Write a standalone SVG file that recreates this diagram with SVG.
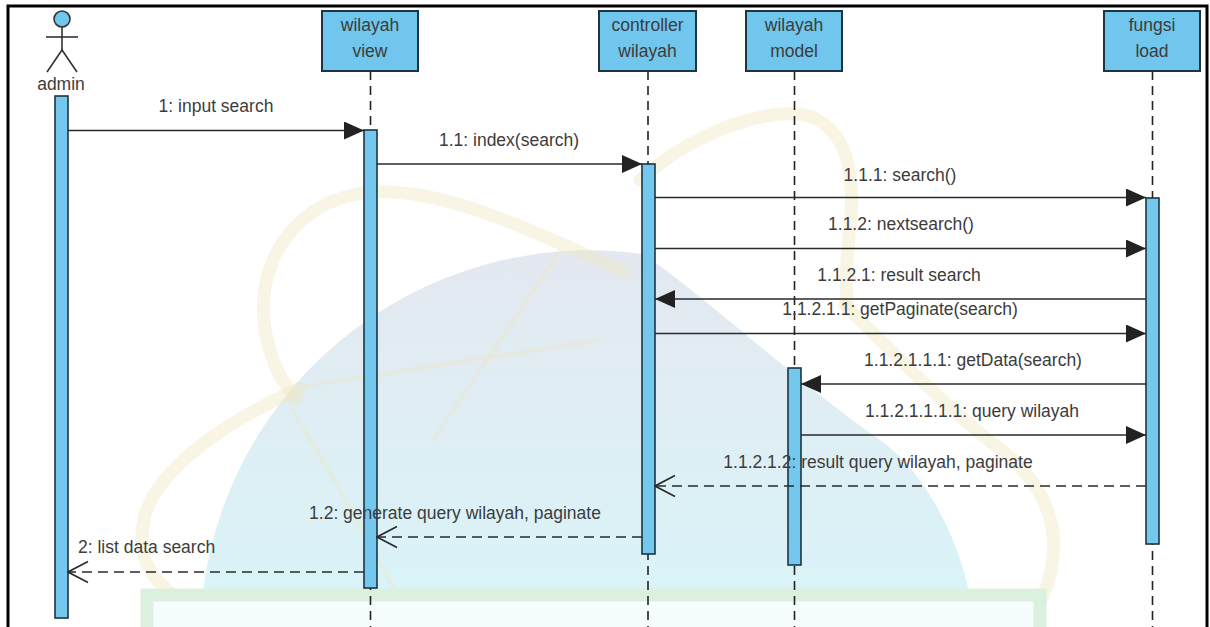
<svg xmlns="http://www.w3.org/2000/svg" width="1210" height="627" viewBox="0 0 1210 627">
  <style>
    .lbl { font-family: "Liberation Sans", Arial, sans-serif; font-size: 17.5px; fill: #3c3c3c; }
    .box { fill: #70c6ec; stroke: #1e3442; stroke-width: 2; }
    .bar { fill: #74c8ee; stroke: #1e3442; stroke-width: 1.6; }
    .life { stroke: #222; stroke-width: 1.6; stroke-dasharray: 9 6; fill: none; }
    .msg { stroke: #2a2a2a; stroke-width: 1.6; fill: none; }
    .ret { stroke: #2a2a2a; stroke-width: 1.6; fill: none; stroke-dasharray: 10 6; }
    .orbit { fill: none; stroke: #f1e6bd; stroke-width: 13; stroke-linecap: round; opacity: 0.4; }
    .orbit-thin { fill: none; stroke: #f1e6bd; stroke-width: 4; opacity: 0.35; }
  </style>
  <defs>
    <linearGradient id="globe" x1="0" y1="250" x2="0" y2="627" gradientUnits="userSpaceOnUse">
      <stop offset="0" stop-color="#e4e8f0"/>
      <stop offset="1" stop-color="#d8f5f9"/>
    </linearGradient>
    <marker id="head-fill" markerWidth="20" markerHeight="18" refX="20" refY="9" orient="auto" markerUnits="userSpaceOnUse">
      <path d="M0,0 L20,9 L0,18 Z" fill="#222"/>
    </marker>
    <marker id="head-open" markerWidth="22" markerHeight="24" refX="21" refY="12" orient="auto" markerUnits="userSpaceOnUse">
      <path d="M1,1.5 L21,12 L1,22.5" fill="none" stroke="#2a2a2a" stroke-width="1.6"/>
    </marker>
  </defs>

  <rect x="0" y="0" width="1210" height="627" fill="#ffffff"/>

  <!-- faint background emblem -->
  <g id="emblem">
    <path d="M643,254 A390,390 0 0 0 200,627 L975,627 C968,560 935,480 880,440 C800,385 710,300 643,254 Z" fill="url(#globe)"/>
    <path class="orbit" d="M625,272 C540,235 450,188 372,192 C298,198 258,258 264,320 C267,352 278,378 296,398"/>
    <path class="orbit" d="M300,388 C230,420 160,465 145,515 C135,555 150,580 178,598"/>
    <path class="orbit" d="M640,180 C690,135 760,108 805,115 C845,125 856,170 850,225 C846,265 845,290 848,305"/>
    <path class="orbit" d="M845,305 C900,360 955,415 995,445 C1050,485 1068,540 1042,598"/>
    <path class="orbit-thin" d="M560,250 L433,440"/>
    <path class="orbit-thin" d="M300,387 L600,340"/>
    <path class="orbit-thin" d="M287,400 L340,490 L400,600"/>
    <rect x="147" y="595" width="893" height="60" fill="#f6fdfd" stroke="#dcf0e0" stroke-width="13"/>
  </g>

  <!-- outer frame -->
  <rect x="8" y="6" width="1199" height="640" fill="none" stroke="#000" stroke-width="3"/>

  <!-- lifelines -->
  <g id="lifelines">
    <line class="life" x1="370.5" y1="71" x2="370.5" y2="627"/>
    <line class="life" x1="648" y1="71" x2="648" y2="627"/>
    <line class="life" x1="794.5" y1="71" x2="794.5" y2="627"/>
    <line class="life" x1="1152.5" y1="71" x2="1152.5" y2="627"/>
  </g>

  <!-- actor -->
  <g id="admin">
    <circle cx="62" cy="19" r="8" fill="#70c6ec" stroke="#333" stroke-width="1.6"/>
    <line x1="62" y1="27" x2="62" y2="50" stroke="#333" stroke-width="1.6"/>
    <line x1="46" y1="37" x2="78" y2="37" stroke="#333" stroke-width="1.6"/>
    <path d="M47,72 L62,50 L77,72" fill="none" stroke="#333" stroke-width="1.6"/>
    <text class="lbl" x="61" y="90" text-anchor="middle">admin</text>
    <rect class="bar" x="55" y="96" width="13" height="522"/>
  </g>

  <g id="wilayah-view">
    <rect class="box" x="322" y="11" width="96" height="60"/>
    <text class="lbl" x="370" y="31" text-anchor="middle">wilayah</text>
    <text class="lbl" x="370" y="57" text-anchor="middle">view</text>
    <rect class="bar" x="364" y="130" width="13" height="458"/>
  </g>

  <g id="controller-wilayah">
    <rect class="box" x="599" y="11" width="97" height="60"/>
    <text class="lbl" x="647.5" y="31" text-anchor="middle">controller</text>
    <text class="lbl" x="647.5" y="57" text-anchor="middle">wilayah</text>
    <rect class="bar" x="642" y="164" width="13" height="390"/>
  </g>

  <g id="wilayah-model">
    <rect class="box" x="746" y="11" width="96" height="60"/>
    <text class="lbl" x="794" y="31" text-anchor="middle">wilayah</text>
    <text class="lbl" x="794" y="57" text-anchor="middle">model</text>
    <rect class="bar" x="788" y="368" width="13" height="197"/>
  </g>

  <g id="fungsi-load">
    <rect class="box" x="1104" y="11" width="96" height="60"/>
    <text class="lbl" x="1152" y="31" text-anchor="middle">fungsi</text>
    <text class="lbl" x="1152" y="57" text-anchor="middle">load</text>
    <rect class="bar" x="1146" y="198" width="13" height="346"/>
  </g>

  <!-- messages -->
  <g id="messages">
    <line class="msg" x1="68" y1="130.5" x2="364" y2="130.5" marker-end="url(#head-fill)"/>
    <text class="lbl" x="216" y="112" text-anchor="middle">1: input search</text>

    <line class="msg" x1="377" y1="164" x2="642" y2="164" marker-end="url(#head-fill)"/>
    <text class="lbl" x="509" y="146" text-anchor="middle">1.1: index(search)</text>

    <line class="msg" x1="655" y1="197.5" x2="1146" y2="197.5" marker-end="url(#head-fill)"/>
    <text class="lbl" x="900" y="181" text-anchor="middle">1.1.1: search()</text>

    <line class="msg" x1="655" y1="248.5" x2="1146" y2="248.5" marker-end="url(#head-fill)"/>
    <text class="lbl" x="901" y="230" text-anchor="middle">1.1.2: nextsearch()</text>

    <line class="msg" x1="1146" y1="299" x2="655" y2="299" marker-end="url(#head-fill)"/>
    <text class="lbl" x="899" y="281" text-anchor="middle">1.1.2.1: result search</text>

    <line class="msg" x1="655" y1="333.5" x2="1146" y2="333.5" marker-end="url(#head-fill)"/>
    <text class="lbl" x="900" y="315" text-anchor="middle">1.1.2.1.1: getPaginate(search)</text>

    <line class="msg" x1="1146" y1="384" x2="801" y2="384" marker-end="url(#head-fill)"/>
    <text class="lbl" x="973" y="366" text-anchor="middle">1.1.2.1.1.1: getData(search)</text>

    <line class="msg" x1="801" y1="435" x2="1146" y2="435" marker-end="url(#head-fill)"/>
    <text class="lbl" x="972" y="417" text-anchor="middle">1.1.2.1.1.1.1: query wilayah</text>

    <line class="ret" x1="1146" y1="486" x2="655" y2="486" marker-end="url(#head-open)"/>
    <text class="lbl" x="878" y="468" text-anchor="middle">1.1.2.1.2: result query wilayah, paginate</text>

    <line class="ret" x1="642" y1="537" x2="377" y2="537" marker-end="url(#head-open)"/>
    <text class="lbl" x="455" y="519" text-anchor="middle">1.2: generate query wilayah, paginate</text>

    <line class="ret" x1="364" y1="572" x2="68" y2="572" marker-end="url(#head-open)"/>
    <text class="lbl" x="78" y="553">2: list data search</text>
  </g>
</svg>
